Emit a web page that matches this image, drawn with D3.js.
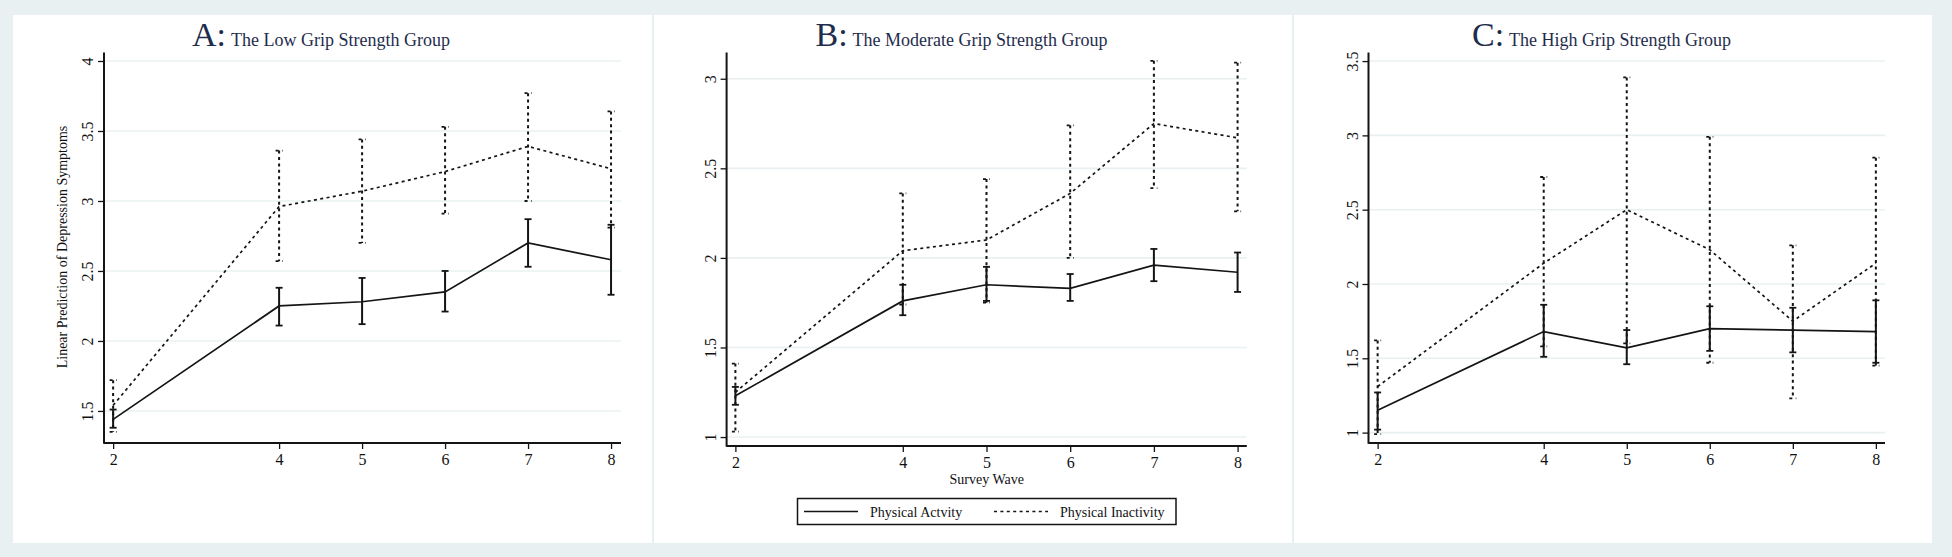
<!DOCTYPE html>
<html>
<head>
<meta charset="utf-8">
<script src="https://cdn.jsdelivr.net/npm/d3@7"></script>
<style>
  html, body { margin: 0; padding: 0; background: #e8f0f2; }
  svg { display: block; }
  text { font-family: "Liberation Serif", "Times New Roman", serif; fill: #111; }
</style>
</head>
<body>
<svg id="chart" width="1952" height="557"></svg>
<script>
// ---------- DATA ----------
const waves = [2, 4, 5, 6, 7, 8];

const lowActive     = [1.44, 2.25, 2.28, 2.35, 2.70, 2.58];
const lowActiveLo   = [1.38, 2.11, 2.12, 2.21, 2.53, 2.33];
const lowActiveHi   = [1.51, 2.38, 2.45, 2.50, 2.87, 2.83];
const lowInactive   = [1.54, 2.96, 3.07, 3.21, 3.39, 3.23];
const lowInactiveLo = [1.35, 2.57, 2.70, 2.91, 3.00, 2.81];
const lowInactiveHi = [1.72, 3.36, 3.44, 3.53, 3.77, 3.64];

const modActive     = [1.23, 1.76, 1.85, 1.83, 1.96, 1.92];
const modActiveLo   = [1.18, 1.68, 1.76, 1.76, 1.87, 1.81];
const modActiveHi   = [1.28, 1.85, 1.95, 1.91, 2.05, 2.03];
const modInactive   = [1.25, 2.04, 2.10, 2.36, 2.75, 2.67];
const modInactiveLo = [1.03, 1.74, 1.75, 2.00, 2.39, 2.26];
const modInactiveHi = [1.41, 2.36, 2.44, 2.74, 3.10, 3.09];

const highActive     = [1.15, 1.68, 1.57, 1.70, 1.69, 1.68];
const highActiveLo   = [1.02, 1.51, 1.46, 1.55, 1.54, 1.47];
const highActiveHi   = [1.27, 1.86, 1.69, 1.85, 1.84, 1.89];
const highInactive   = [1.31, 2.14, 2.50, 2.23, 1.75, 2.14];
const highInactiveLo = [0.99, 1.58, 1.60, 1.47, 1.23, 1.45];
const highInactiveHi = [1.62, 2.72, 3.39, 2.99, 2.26, 2.85];

const ticksA = [1.5, 2, 2.5, 3, 3.5, 4];
const ticksB = [1, 1.5, 2, 2.5, 3];
const ticksC = [1, 1.5, 2, 2.5, 3, 3.5];

const panelLetters = ["A:", "B:", "C:"];
const panelTitles = ["The Low Grip Strength Group", "The Moderate Grip Strength Group", "The High Grip Strength Group"];
const seriesNames = ["Physical Actvity", "Physical Inactivity"];
const yAxisTitle = "Linear Prediction of Depression Symptoms";
const xAxisTitle = "Survey Wave";

// ---------- LAYOUT ----------
const panels = [
  { box: [13, 652], xr: [104, 621], xd: [1.89, 8.12], yr: [443, 52.6], yd: [1.271, 4.06], ticks: ticksA,
    act: [lowActive, lowActiveLo, lowActiveHi], ina: [lowInactive, lowInactiveLo, lowInactiveHi] },
  { box: [654, 1292], xr: [726.6, 1246.8], xd: [1.895, 8.11], yr: [446, 52.6], yd: [0.95, 3.146], ticks: ticksB,
    act: [modActive, modActiveLo, modActiveHi], ina: [modInactive, modInactiveLo, modInactiveHi] },
  { box: [1294, 1932], xr: [1368.5, 1885], xd: [1.89, 8.11], yr: [443, 52.6], yd: [0.93, 3.557], ticks: ticksC,
    act: [highActive, highActiveLo, highActiveHi], ina: [highInactive, highInactiveLo, highInactiveHi] }
];

const svg = d3.select("#chart");
svg.append("rect").attr("width", 1952).attr("height", 557).attr("fill", "#e8f0f2");

const DASH = "3,3.4";
const INK = "#141414";

panels.forEach((p, i) => {
  const g = svg.append("g");
  g.append("rect").attr("x", p.box[0]).attr("y", 15).attr("width", p.box[1] - p.box[0]).attr("height", 528).attr("fill", "#ffffff");

  const x = d3.scaleLinear().domain(p.xd).range(p.xr);
  const y = d3.scaleLinear().domain(p.yd).range(p.yr);
  const axisY = p.yr[0];
  const axisX = p.xr[0];

  // gridlines
  g.selectAll(".grid").data(p.ticks).join("line")
    .attr("x1", axisX).attr("x2", p.xr[1])
    .attr("y1", d => y(d)).attr("y2", d => y(d))
    .attr("stroke", "#eaf0f2").attr("stroke-width", 1.6);

  // y axis
  const yAxis = d3.axisLeft(y).tickValues(p.ticks).tickSize(6).tickFormat(d3.format("~g"));
  const ya = g.append("g").attr("transform", `translate(${axisX},0)`).call(yAxis);
  ya.select(".domain").remove();
  ya.selectAll(".tick line").attr("stroke", INK).attr("stroke-width", 1.3);
  ya.selectAll(".tick text")
    .attr("x", null).attr("dy", null)
    .attr("transform", "translate(-11,0) rotate(-90)")
    .attr("text-anchor", "middle")
    .style("font-family", '"Liberation Serif", serif').style("font-size", "16px").attr("fill", "#111");
  g.append("line").attr("x1", axisX).attr("x2", axisX).attr("y1", p.yr[1]).attr("y2", axisY + 0.8)
    .attr("stroke", INK).attr("stroke-width", 2);

  // x axis
  const xAxis = d3.axisBottom(x).tickValues(waves).tickSize(6).tickFormat(d3.format("d"));
  const xa = g.append("g").attr("transform", `translate(0,${axisY})`).call(xAxis);
  xa.select(".domain").remove();
  xa.selectAll(".tick line").attr("stroke", INK).attr("stroke-width", 1.3);
  xa.selectAll(".tick text").attr("y", 22).attr("dy", null)
    .style("font-family", '"Liberation Serif", serif').style("font-size", "16px").attr("fill", "#111");
  g.append("line").attr("x1", axisX).attr("x2", p.xr[1]).attr("y1", axisY).attr("y2", axisY)
    .attr("stroke", INK).attr("stroke-width", 2);

  // series
  const series = [
    { vals: p.act, dash: null, w: 1.7, ew: 2 },
    { vals: p.ina, dash: DASH, w: 1.7, ew: 2 }
  ];
  series.slice().reverse().forEach(s => {
    const pts = waves.map((w, k) => ({ w, v: s.vals[0][k], lo: s.vals[1][k], hi: s.vals[2][k] }));
    const eg = g.append("g");
    // error bars
    eg.selectAll(".eb").data(pts).join("line")
      .attr("x1", d => x(d.w)).attr("x2", d => x(d.w))
      .attr("y1", d => y(d.hi)).attr("y2", d => y(d.lo))
      .attr("stroke", INK).attr("stroke-width", s.ew)
      .attr("stroke-dasharray", s.dash);
    ["hi", "lo"].forEach(key => {
      eg.selectAll(".cap-" + key).data(pts).join("line")
        .attr("x1", d => x(d.w) - 3.5).attr("x2", d => x(d.w) + 3.5)
        .attr("y1", d => y(d[key])).attr("y2", d => y(d[key]))
        .attr("stroke", INK).attr("stroke-width", 1.8)
        .attr("stroke-dasharray", s.dash);
    });
    // line
    const line = d3.line().x(d => x(d.w)).y(d => y(d.v));
    eg.append("path").datum(pts).attr("d", line)
      .attr("fill", "none").attr("stroke", INK).attr("stroke-width", s.w)
      .attr("stroke-dasharray", s.dash);
  });

  // title
  const cx = (p.box[0] + p.box[1]) / 2 - 11.5;
  const t = g.append("text").attr("x", cx).attr("y", 46).attr("text-anchor", "middle").attr("fill", "#1f2d4d")
    .style("fill", "#1f2d4d");
  t.append("tspan").text(panelLetters[i]).style("font-size", "34px");
  t.append("tspan").attr("dx", 5).text(panelTitles[i]).style("font-size", "18px");

  if (i === 0) {
    g.append("text").attr("transform", `translate(67,247) rotate(-90)`)
      .attr("text-anchor", "middle").style("font-size", "14px").text(yAxisTitle);
  }
  if (i === 1) {
    const mid = (p.xr[0] + p.xr[1]) / 2;
    g.append("text").attr("x", mid).attr("y", 484).attr("text-anchor", "middle")
      .style("font-size", "14px").text(xAxisTitle);

    // legend
    const lg = g.append("g");
    lg.append("rect").attr("x", 797.5).attr("y", 498.5).attr("width", 378.5).attr("height", 26)
      .attr("fill", "#fff").attr("stroke", INK).attr("stroke-width", 1.5);
    const items = [
      { x0: 804, x1: 858, tx: 870, dash: null },
      { x0: 994, x1: 1048, tx: 1060, dash: DASH }
    ];
    items.forEach((it, k) => {
      lg.append("line").attr("x1", it.x0).attr("x2", it.x1).attr("y1", 511.5).attr("y2", 511.5)
        .attr("stroke", INK).attr("stroke-width", 1.6).attr("stroke-dasharray", it.dash);
      lg.append("text").attr("x", it.tx).attr("y", 516.5).style("font-size", "14px").text(seriesNames[k]);
    });
  }
});
</script>
</body>
</html>
